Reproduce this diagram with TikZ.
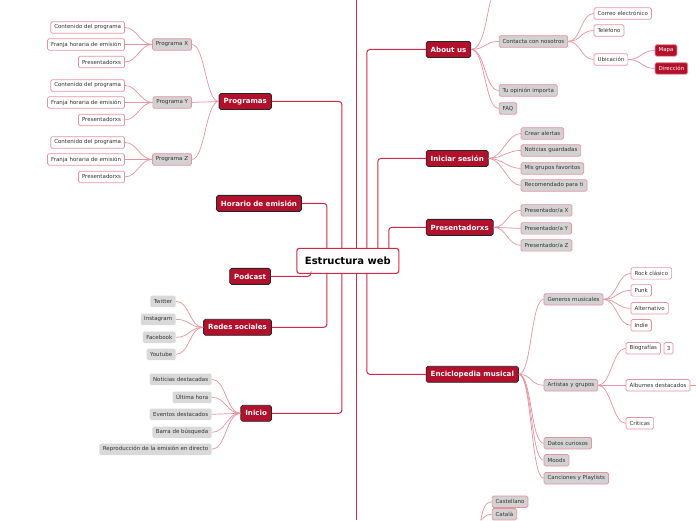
\documentclass[tikz,border=0pt]{standalone}
\usepackage{fontspec}
\setmainfont{DejaVu Sans}
\usetikzlibrary{positioning}
\definecolor{topicred}{HTML}{B3102C}
\definecolor{trunk}{HTML}{CF2A48}
\definecolor{twig}{HTML}{E8929E}
\definecolor{subfill}{HTML}{D2D2D2}
\definecolor{plainfill}{HTML}{D9D9D9}
\definecolor{ink}{HTML}{333333}

\begin{document}
\begin{tikzpicture}[
    x=1pt, y=-1pt,
    central/.style={draw=trunk, line width=1.1pt, fill=white, rounded corners=2.5pt,
                    minimum width=102pt, minimum height=25pt,
                    font=\fontsize{10}{12}\selectfont\bfseries},
    topic/.style={fill=topicred, draw=black!85, line width=0.8pt, rounded corners=1.8pt,
                  text=white, minimum height=16pt, inner xsep=4.5pt, inner ysep=1pt,
                  font=\fontsize{7.1}{8}\selectfont\bfseries},
    sub/.style={fill=subfill, draw=twig, line width=0.7pt, rounded corners=1.5pt,
                minimum height=11.5pt, inner xsep=3.5pt, inner ysep=1pt, text=ink,
                font=\fontsize{5.5}{6}\selectfont},
    leaf/.style={sub, fill=white},
    redleaf/.style={sub, fill=topicred, text=white},
    bare/.style={fill=plainfill, rounded corners=1.5pt, minimum height=11.5pt,
                 inner xsep=3.5pt, inner ysep=1pt, text=ink,
                 font=\fontsize{5.5}{6}\selectfont},
    trunkline/.style={draw=trunk, line width=1pt, rounded corners=3pt},
    twigline/.style={draw=twig, line width=0.7pt},
]
\fill[white] (0,0) rectangle (696,520);

% ── Centre ──
\node[central] (cen) at (348,260.5) {Estructura web};

% ── Left side: main topics ──
\node[topic, anchor=east] (prog)  at (272,101) {Programas};
\node[topic, anchor=east] (hor)   at (302,203) {Horario de emisión};
\node[topic, anchor=east] (pod)   at (271,276) {Podcast};
\node[topic, anchor=east] (redes) at (272,327) {Redes sociales};
\node[topic, anchor=east] (ini)   at (272,413) {Inicio};

% Programa X / Y / Z with their three leaves
\foreach \p/\P/\y in {x/X/44, y/Y/102, z/Z/159} {
    \node[sub, anchor=east] (p\p) at (192,\y) {Programa \P};
    \node[leaf, anchor=east] (p\p-cont) at (125,\y-17)   {Contenido del programa};
    \node[leaf, anchor=east] (p\p-fran) at (125,\y)      {Franja horaria de emisión};
    \node[leaf, anchor=east] (p\p-pres) at (125,\y+17.5) {Presentadorxs};
    \draw[twigline] (prog.west) .. controls +(-13,0) and +(13,0) .. (p\p.east);
    \foreach \c in {cont,fran,pres}
        \draw[twigline] (p\p.west) .. controls +(-12,0) and +(12,0) .. (p\p-\c.east);
}

% Redes sociales
\node[bare, anchor=east] (tw) at (176,301) {Twitter};
\node[bare, anchor=east] (ig) at (176,319) {Instagram};
\node[bare, anchor=east] (fb) at (176,337) {Facebook};
\node[bare, anchor=east] (yt) at (176,354) {Youtube};
\foreach \c in {tw,ig,fb,yt}
    \draw[twigline] (redes.west) .. controls +(-14,0) and +(14,0) .. (\c.east);

% Inicio
\node[bare, anchor=east] (nd)  at (212,379) {Noticias destacadas};
\node[bare, anchor=east] (uh)  at (212,397) {Última hora};
\node[bare, anchor=east] (ed)  at (212,414) {Eventos destacados};
\node[bare, anchor=east] (bb)  at (212,432) {Barra de búsqueda};
\node[bare, anchor=east] (rep) at (212,449) {Reproducción de la emisión en directo};
\foreach \c in {nd,uh,ed,bb,rep}
    \draw[twigline] (ini.west) .. controls +(-14,0) and +(14,0) .. (\c.east);

% ── Right side: main topics ──
\node[topic, anchor=west] (about) at (426,49)  {About us};
\node[topic, anchor=west] (login) at (426,158) {Iniciar sesión};
\node[topic, anchor=west] (pres)  at (426,227) {Presentadorxs};
\node[topic, anchor=west] (enc)   at (426,374) {Enciclopedia musical};

% About us
\coordinate (aboutup) at (491,0);
\node[sub, anchor=west] (contacta) at (499,41)  {Contacta con nosotros};
\node[sub, anchor=west] (opinion)  at (499,90)  {Tu opinión importa};
\node[sub, anchor=west] (faq)      at (499,108) {FAQ};
\foreach \c in {contacta,opinion,faq}
    \draw[twigline] (about.east) .. controls +(14,0) and +(-14,0) .. (\c.west);
\draw[twigline] (about.east) .. controls +(13,0) and +(-4,12) .. (aboutup);

\node[leaf, anchor=west] (correo) at (594,13) {Correo electrónico};
\node[leaf, anchor=west] (tel)    at (594,30) {Teléfono};
\node[leaf, anchor=west] (ubic)   at (594,59) {Ubicación};
\foreach \c in {correo,tel,ubic}
    \draw[twigline] (contacta.east) .. controls +(13,0) and +(-13,0) .. (\c.west);

\node[redleaf, anchor=west] (mapa) at (655,50) {Mapa};
\node[redleaf, anchor=west] (dir)  at (655,68) {Dirección};
\foreach \c in {mapa,dir}
    \draw[twigline] (ubic.east) .. controls +(13,0) and +(-13,0) .. (\c.west);

% Iniciar sesión
\node[sub, anchor=west] (alert) at (521,133) {Crear alertas};
\node[sub, anchor=west] (guard) at (521,150) {Noticias guardadas};
\node[sub, anchor=west] (fav)   at (521,168) {Mis grupos favoritos};
\node[sub, anchor=west] (recom) at (521,185) {Recomendado para ti};
\foreach \c in {alert,guard,fav,recom}
    \draw[twigline] (login.east) .. controls +(13,0) and +(-13,0) .. (\c.west);

% Presentadorxs
\foreach \P/\y in {X/210, Y/228, Z/245} {
    \node[sub, anchor=west] (pr\P) at (521,\y) {Presentador/a \P};
    \draw[twigline] (pres.east) .. controls +(13,0) and +(-13,0) .. (pr\P.west);
}

% Enciclopedia musical
\node[sub, anchor=west] (gen)   at (544,299) {Generos musicales};
\node[sub, anchor=west] (art)   at (544,385) {Artistas y grupos};
\node[sub, anchor=west] (datos) at (544,443) {Datos curiosos};
\node[sub, anchor=west] (moods) at (544,460) {Moods};
\node[sub, anchor=west] (canc)  at (544,478) {Canciones y Playlists};
\foreach \c in {gen,art,datos,moods,canc}
    \draw[twigline] (enc.east) .. controls +(13,0) and +(-13,0) .. (\c.west);

\node[leaf, anchor=west] (rock)  at (631,273) {Rock clásico};
\node[leaf, anchor=west] (punk)  at (631,290) {Punk};
\node[leaf, anchor=west] (alt)   at (631,308) {Alternativo};
\node[leaf, anchor=west] (indie) at (631,325) {Indie};
\foreach \c in {rock,punk,alt,indie}
    \draw[twigline] (gen.east) .. controls +(13,0) and +(-13,0) .. (\c.west);

\node[leaf, anchor=west] (bio)      at (626,348) {Biografías};
\node[leaf, anchor=west, minimum width=9pt, inner xsep=1.5pt] (biocount) at (664,348) {3};
\node[leaf, anchor=west] (alb)      at (626,385) {Álbumes destacados};
\node[leaf, anchor=west] (crit)     at (626,423) {Críticas};
\foreach \c in {bio,alb,crit}
    \draw[twigline] (art.east) .. controls +(13,0) and +(-13,0) .. (\c.west);
\coordinate (albnext) at (696,385);
\draw[twigline] (alb.east) -- (albnext);

% Idiomas (below the frame)
\coordinate (langroot) at (481,520);
\node[sub, anchor=west] (cast) at (492,501.5) {Castellano};
\node[sub, anchor=west] (cata) at (492,514)   {Català};
\draw[twigline] (langroot) .. controls +(2,-12) and +(-6,0) .. (cast.west);
\draw[twigline] (langroot) .. controls +(4,-3) and +(-6,0) .. (cata.west);

% ── Trunk lines from the centre ──
\coordinate (offtop)    at (357,0);
\coordinate (offbottom) at (357,520);
\draw[trunkline] (prog.east)  -| ([xshift=-6pt]cen.north);
\draw[trunkline] (hor.east)   -| ([xshift=-21pt]cen.north);
\draw[trunkline] (pod.east)   -| ([xshift=-37pt]cen.south);
\draw[trunkline] (redes.east) -| ([xshift=-21pt]cen.south);
\draw[trunkline] (ini.east)   -| ([xshift=-6pt]cen.south);
\draw[trunkline] (about.west) -| ([xshift=19pt]cen.north);
\draw[trunkline] (login.west) -| ([xshift=30pt]cen.north);
\draw[trunkline] (pres.west)  -| ([xshift=41pt]cen.north);
\draw[trunkline] (enc.west)   -| ([xshift=19pt]cen.south);
\draw[trunkline] (offtop) -- ([xshift=9pt]cen.north);
\draw[trunkline] ([xshift=9pt]cen.south) -- (offbottom);

\end{tikzpicture}
\end{document}
